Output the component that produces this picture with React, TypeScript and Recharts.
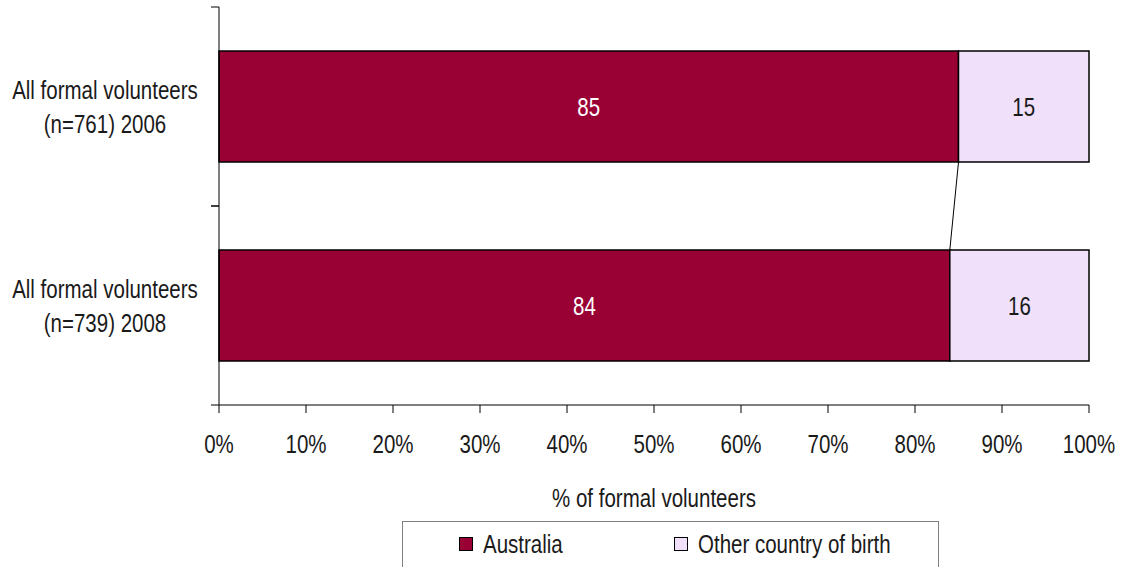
import React from 'react';
import { BarChart, Bar, XAxis, YAxis, LabelList } from 'recharts';

// values
const categories = ['All formal volunteers\n(n=761) 2006', 'All formal volunteers\n(n=739) 2008'];
const australia = [85, 84];
const otherCountry = [15, 16];
const seriesNames = ['Australia', 'Other country of birth'];
const xTicks = [0, 10, 20, 30, 40, 50, 60, 70, 80, 90, 100];

const data = categories.map((category, i) => ({
  category,
  australia: australia[i],
  other: otherCountry[i],
}));

// Arial Narrow look: Liberation Sans squeezed horizontally
const FONT = '"Liberation Sans", Arial, sans-serif';
const SQUEEZE = 0.82;
const FS = 25;
const INK = '#1a1a1a';
const AUS = '#990033';
const OTHER = '#F0E0FA';

const Narrow = ({ x, y, children, fill = INK, anchor = 'middle' }: any) => (
  <text
    transform={`translate(${x},${y}) scale(${SQUEEZE},1)`}
    x={0}
    y={0}
    textAnchor={anchor}
    fontSize={FS}
    fontFamily={FONT}
    fill={fill}
  >
    {children}
  </text>
);

// remember the drawn rects so the series line can join consecutive bars
const drawn: Record<number, { x: number; y: number; width: number; height: number }> = {};

const AustraliaBar = (props: any) => {
  const { x, y, width, height, index } = props;
  drawn[index] = { x, y, width, height };
  const prev = index > 0 ? drawn[index - 1] : undefined;
  return (
    <g>
      <rect x={x} y={y} width={width} height={height} fill={AUS} stroke="#000" strokeWidth={1.5} />
      {prev && (
        <line x1={prev.x + prev.width} y1={prev.y + prev.height} x2={x + width} y2={y} stroke="#000" strokeWidth={1} />
      )}
    </g>
  );
};

// category label in two lines, tick marks on the band edges (Excel style)
const CategoryTick = (props: any) => {
  const { x, y, payload } = props;
  const half = payload.offset ?? 0;
  const lines = String(payload.value).split('\n');
  return (
    <g>
      <line x1={x} y1={y - half} x2={x + 8} y2={y - half} stroke="#000" strokeWidth={1} />
      <line x1={x} y1={y + half} x2={x + 8} y2={y + half} stroke="#000" strokeWidth={1} />
      {lines.map((line, i) => (
        <Narrow key={i} x={x - 106} y={y - 8 + i * 34}>
          {line}
        </Narrow>
      ))}
    </g>
  );
};

const PctTick = (props: any) => {
  const { x, y, payload } = props;
  return <Narrow x={x} y={y + 18}>{`${payload.value}%`}</Narrow>;
};

const barLabel = (fill: string) => (p: any) => (
  <Narrow x={p.x + p.width / 2} y={p.y + p.height / 2 + 9} fill={fill}>
    {p.value}
  </Narrow>
);

const Swatch = ({ color }: { color: string }) => (
  <span style={{ display: 'inline-block', width: 12, height: 12, background: color, border: '1.5px solid #000', marginRight: 10 }} />
);

const legendText = { display: 'inline-block', transform: `scaleX(${SQUEEZE})`, transformOrigin: 'left center', whiteSpace: 'nowrap' as const };

export default function App() {
  return (
    <div style={{ position: 'absolute', left: 0, top: 0, width: 1125, height: 567, overflow: 'hidden', background: '#fff', fontFamily: FONT }}>
      <BarChart
        width={1125}
        height={567}
        data={data}
        layout="vertical"
        margin={{ top: 7, right: 36, left: 0, bottom: 52 }}
      >
        <YAxis
          type="category"
          dataKey="category"
          width={219}
          axisLine={{ stroke: '#000', strokeWidth: 1 }}
          tickLine={false}
          tickSize={8}
          tickMargin={0}
          tick={<CategoryTick />}
          interval={0}
        />
        <XAxis
          type="number"
          domain={[0, 100]}
          ticks={xTicks}
          interval={0}
          height={110}
          axisLine={{ stroke: '#000', strokeWidth: 1 }}
          tickLine={{ stroke: '#000' }}
          tickSize={8}
          tickMargin={22}
          tick={<PctTick />}
          label={{
            value: '% of formal volunteers',
            content: ({ viewBox }: any) => (
              <Narrow x={viewBox.x + viewBox.width / 2} y={viewBox.y + 102}>% of formal volunteers</Narrow>
            ),
          }}
        />
        <Bar dataKey="australia" name={seriesNames[0]} stackId="a" barSize={111} fill={AUS} shape={<AustraliaBar />} isAnimationActive={false}>
          <LabelList dataKey="australia" content={barLabel('#fff')} />
        </Bar>
        <Bar dataKey="other" name={seriesNames[1]} stackId="a" barSize={111} fill={OTHER} stroke="#000" strokeWidth={1.5} isAnimationActive={false}>
          <LabelList dataKey="other" content={barLabel(INK)} />
        </Bar>
      </BarChart>
      <div style={{ position: 'absolute', left: 402, top: 521, width: 537, height: 70, border: '1px solid #808080', boxSizing: 'border-box' }} />
      <div style={{ position: 'absolute', left: 459, top: 530, height: 28, display: 'flex', alignItems: 'center', fontSize: FS, color: INK }}>
        <Swatch color={AUS} />
        <span style={legendText}>{seriesNames[0]}</span>
      </div>
      <div style={{ position: 'absolute', left: 674, top: 530, height: 28, display: 'flex', alignItems: 'center', fontSize: FS, color: INK }}>
        <Swatch color={OTHER} />
        <span style={legendText}>{seriesNames[1]}</span>
      </div>
    </div>
  );
}
